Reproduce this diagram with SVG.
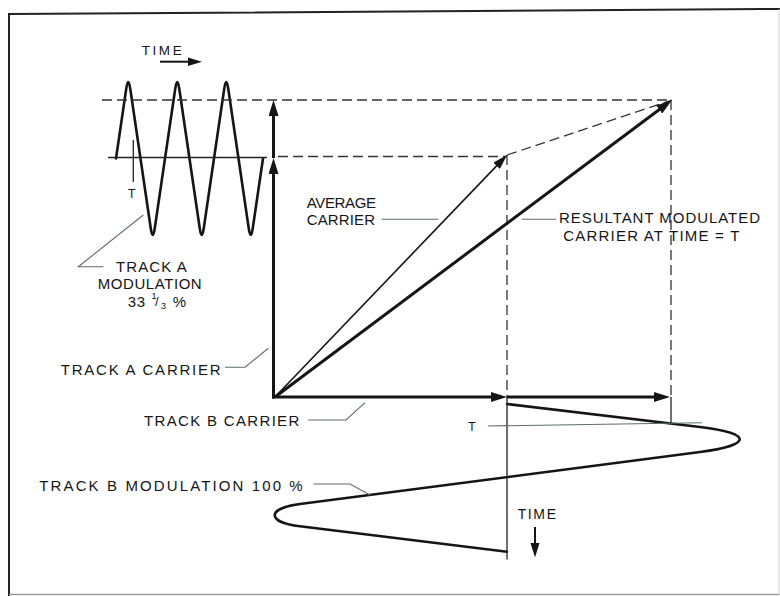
<svg xmlns="http://www.w3.org/2000/svg" width="780" height="596" viewBox="0 0 780 596">
<defs>
<style>
.lbl{font-family:"Liberation Sans",Arial,sans-serif;font-size:15px;fill:#151515;}
.sm{font-size:12px;}
.lead{fill:none;stroke:#5e6e66;stroke-width:1.1;}
.dash{fill:none;stroke:#333;stroke-width:1.3;stroke-dasharray:10 5;}
.thinsolid{fill:none;stroke:#222;stroke-width:1.3;}
.thick{fill:none;stroke:#151515;stroke-width:3;}
.wave{fill:none;stroke:#151515;stroke-width:2.6;stroke-linejoin:round;stroke-linecap:round;}
.frame{fill:none;stroke:#222;stroke-width:2;}
</style>
<marker id="ahThick" viewBox="0 0 16 10" refX="9" refY="5" markerWidth="16" markerHeight="10" markerUnits="userSpaceOnUse" orient="auto">
<path d="M0,0 L16,5 L0,10 z" fill="#151515"/>
</marker>
<marker id="ahThin" viewBox="0 0 15 9" refX="9" refY="4.5" markerWidth="15" markerHeight="9" markerUnits="userSpaceOnUse" orient="auto">
<path d="M0,0 L15,4.5 L0,9 z" fill="#151515"/>
</marker>
</defs>
<rect x="0" y="0" width="780" height="596" fill="#fff"/>
<g id="frame">
<path class="frame" d="M9,596 L9,14 L780,9"/>
<line x1="9" y1="594.5" x2="780" y2="594.5" stroke="#9a9a9a" stroke-width="1.5"/>
<line x1="779" y1="9" x2="779" y2="595" stroke="#d0d0d0" stroke-width="1"/>
</g>

<g id="track-a-wave">
<path class="wave" d="M116,158.5 L126.2,89 Q128.25,75 130.3,89 L150.7,228 Q152.75,242 154.8,228 L175.2,89 Q177.25,75 179.3,89 L199.7,228 Q201.75,242 203.8,228 L224.2,89 Q226.25,75 228.3,89 L248.7,228 Q250.75,242 252.8,228 L263,158.5"/>
<line class="thinsolid" x1="108" y1="157.5" x2="267" y2="157.5"/>
<line class="thinsolid" x1="133.3" y1="140" x2="133.3" y2="182"/>
<text class="lbl sm" x="128" y="198">T</text>
<g id="time-a">
<text class="lbl" style="font-size:13.5px" x="141.7" y="55" textLength="40" lengthAdjust="spacing">TIME</text>
<line x1="160" y1="61.7" x2="190" y2="61.7" stroke="#151515" stroke-width="2"/>
<polygon points="188,57.5 202,61.7 188,66" fill="#151515"/>
</g>
</g>

<g id="track-b-wave">
<path class="wave" d="M507,404 L700,427 C753,433.2 753,445.1 700,452 L300,504 C266.3,508.4 266.3,522.2 300,526.3 L507,551.7"/>
<line class="thinsolid" x1="507" y1="397" x2="507" y2="559.5"/>
<line class="thinsolid" x1="671" y1="397" x2="671" y2="423.5"/>
<line class="lead" x1="488" y1="426" x2="702" y2="422.7"/>
<text class="lbl sm" x="468.3" y="431">T</text>
<g id="time-b">
<text class="lbl" style="font-size:14px" x="517.7" y="518.5" textLength="38.3" lengthAdjust="spacing">TIME</text>
<line x1="535" y1="527" x2="535" y2="545" stroke="#151515" stroke-width="2"/>
<polygon points="530.5,543 539.5,543 535,557.5" fill="#151515"/>
</g>
</g>

<g id="connectors">
<line class="dash" x1="102" y1="100" x2="672" y2="100"/>
<line class="dash" x1="278" y1="156.5" x2="507" y2="156.5"/>
<line class="dash" x1="507" y1="155" x2="672" y2="100"/>
<line class="dash" x1="507" y1="155" x2="507" y2="397"/>
<line class="dash" x1="671" y1="100" x2="671" y2="397"/>
<line class="thick" x1="273.5" y1="398.5" x2="273.5" y2="165" marker-end="url(#ahThick)"/>
<line class="thick" x1="273.5" y1="158" x2="273.5" y2="107" marker-end="url(#ahThick)"/>
<line class="thick" x1="272" y1="397" x2="500" y2="397" marker-end="url(#ahThick)"/>
<line class="thick" x1="507" y1="397" x2="663" y2="397" marker-end="url(#ahThick)"/>
<line fill="none" stroke="#151515" stroke-width="1.6" x1="275" y1="397" x2="502.85" y2="159.33" marker-end="url(#ahThin)"/>
<line class="thick" x1="275" y1="397" x2="666.4" y2="104.2" marker-end="url(#ahThick)"/>
</g>

<g id="track-a-modulation">
<polyline class="lead" points="143.3,215 78.3,266.7 103.3,266.7"/>
<text class="lbl" x="116" y="271.7" textLength="70.7" lengthAdjust="spacing">TRACK A</text>
<text class="lbl" x="97.7" y="289.3" textLength="104" lengthAdjust="spacing">MODULATION</text>
<text class="lbl" x="127.7" y="306.7"><tspan textLength="17.3" lengthAdjust="spacing">33</tspan><tspan x="151.5" y="299" style="font-size:9px">1</tspan><tspan x="155" y="306" style="font-size:13px">/</tspan><tspan x="161" y="308.5" style="font-size:9px">3</tspan><tspan x="172.7" y="306.7">%</tspan></text>
</g>

<g id="track-a-carrier">
<polyline class="lead" points="225,367.3 245,367.3 268.3,348.3"/>
<text class="lbl" x="60.7" y="375" textLength="160" lengthAdjust="spacing">TRACK A CARRIER</text>
</g>

<g id="average-carrier">
<line class="lead" x1="381.7" y1="219.3" x2="438.3" y2="219.3"/>
<text class="lbl" x="306.7" y="207.7" textLength="69.3" lengthAdjust="spacing">AVERAGE</text>
<text class="lbl" x="306.7" y="225" textLength="68.3" lengthAdjust="spacing">CARRIER</text>
</g>

<g id="resultant">
<line class="lead" x1="521.7" y1="219.3" x2="556" y2="219.3"/>
<text class="lbl" x="559" y="222.7" textLength="201" lengthAdjust="spacing">RESULTANT MODULATED</text>
<text class="lbl" x="563.3" y="240.7" textLength="176" lengthAdjust="spacing">CARRIER AT TIME = T</text>
</g>

<g id="track-b-carrier">
<polyline class="lead" points="308.3,420 346,420 365,402.7"/>
<text class="lbl" x="144" y="426" textLength="155.3" lengthAdjust="spacing">TRACK B CARRIER</text>
</g>

<g id="track-b-modulation">
<polyline class="lead" points="313.3,484 350,484 370,495"/>
<text class="lbl" x="39.3" y="490.7" textLength="263.4" lengthAdjust="spacing">TRACK B MODULATION 100 %</text>
</g>
</svg>
